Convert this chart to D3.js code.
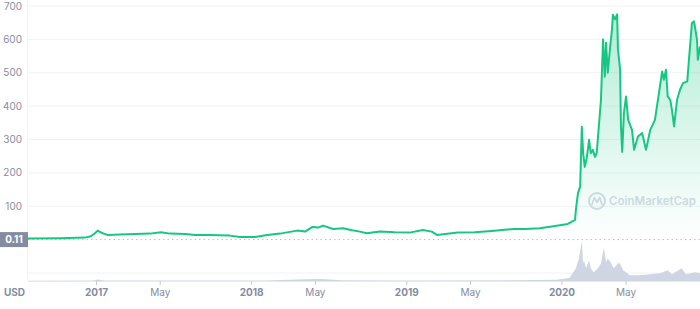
<!DOCTYPE html>
<html>
<head>
<meta charset="utf-8">
<script src="https://cdn.jsdelivr.net/npm/d3@7"></script>
<style>
  body { margin: 0; background: #fff; }
  svg { display: block; font-family: Inter, "Noto Sans", sans-serif; }
</style>
</head>
<body>
<svg width="700" height="309"></svg>
<script>
// price readings (USD)
const priceDates = ["2016-07-25","2016-10-09","2016-12-06","2016-12-20","2016-12-30","2017-01-05","2017-01-12","2017-01-19","2017-01-29","2017-02-26","2017-04-03","2017-05-08","2017-06-03","2017-06-24","2017-07-30","2017-08-22","2017-09-26","2017-11-12","2017-12-06","2018-01-10","2018-02-08","2018-03-10","2018-04-19","2018-05-08","2018-05-25","2018-06-08","2018-06-19","2018-07-13","2018-08-05","2018-08-27","2018-09-14","2018-09-30","2018-10-31","2018-12-05","2019-01-09","2019-02-09","2019-03-02","2019-03-14","2019-05-02","2019-06-11","2019-07-21","2019-09-13","2019-10-07","2019-11-11","2019-12-17","2020-01-16","2020-02-02","2020-02-04","2020-02-09","2020-02-14","2020-02-18","2020-02-21","2020-02-25","2020-03-01","2020-03-06","2020-03-10","2020-03-15","2020-03-20","2020-03-24","2020-03-29","2020-04-03","2020-04-08","2020-04-12","2020-04-15","2020-04-19","2020-04-24","2020-04-29","2020-05-01","2020-05-06","2020-05-11","2020-05-13","2020-05-18","2020-05-20","2020-05-23","2020-05-27","2020-06-01","2020-06-06","2020-06-15","2020-06-20","2020-06-29","2020-07-09","2020-07-18","2020-07-28","2020-08-08","2020-08-15","2020-08-25","2020-08-29","2020-09-03","2020-09-07","2020-09-13","2020-09-17","2020-09-22","2020-09-29","2020-10-06","2020-10-13","2020-10-23","2020-10-27","2020-11-03","2020-11-08","2020-11-15","2020-11-17","2020-11-22"];
const priceValues = [3,4,6,10,20,27,22,18,14,15,17,18,22,18,17,14,14,12,8,8,14,18,27,24,38,36,42,32,34,28,24,19,24,22,21,29,24,14,21,22,26,32,32,34,41,47,59,89,140,158,338,260,218,248,299,259,269,248,260,339,419,600,488,590,500,570,630,674,660,675,570,510,339,263,379,429,359,329,269,309,319,269,329,359,419,504,479,509,429,419,389,339,419,449,469,474,539,649,654,599,539,579];

// volume readings (relative units)
const volumeDates = ["2016-07-25","2016-12-25","2017-01-05","2017-01-20","2017-06-01","2018-02-01","2018-05-10","2018-06-15","2018-08-01","2019-01-01","2019-09-01","2019-12-20","2020-01-20","2020-02-04","2020-02-11","2020-02-18","2020-02-21","2020-02-23","2020-02-28","2020-03-06","2020-03-10","2020-03-17","2020-03-27","2020-04-03","2020-04-10","2020-04-15","2020-04-19","2020-04-26","2020-05-03","2020-05-15","2020-05-20","2020-05-25","2020-06-01","2020-06-10","2020-07-03","2020-07-27","2020-08-20","2020-09-07","2020-09-17","2020-10-10","2020-10-20","2020-11-10","2020-11-22"];
const volumeValues = [0.3,0.5,1.5,0.6,0.5,0.6,1.8,2,0.8,0.6,0.8,1.2,3,13,23,41,18,21,13,21,13,9,13,18,34,19,23,19,13,19,16,11,9,6,6,7,8,11,7,13,7,9,8];

const yTicks = [100,200,300,400,500,600,700];
const gridValues = [-100,100,200,300,400,500,600,700];
const xTickDates = ["2017-01-01","2017-05-31","2018-01-01","2018-05-31","2019-01-01","2019-05-31","2020-01-01","2020-05-31"];
const xTickLabels = ["2017","May","2018","May","2019","May","2020","May"];
const startPrice = 0.11;

const parse = d3.timeParse("%Y-%m-%d");
const price = priceDates.map((d, i) => ({date: parse(d), value: priceValues[i]}));
const volume = volumeDates.map((d, i) => ({date: parse(d), value: volumeValues[i]}));

const svg = d3.select("svg");
const left = 28, right = 700;

const x = d3.scaleTime()
  .domain([parse("2016-07-25"), parse("2020-11-22")])
  .range([left, right]);
const y = d3.scaleLinear().domain([-100, 700]).range([273, 6]);
const yVol = d3.scaleLinear().domain([0, d3.max(volumeValues)]).range([281, 241]);

// gradient for the price area
const defs = svg.append("defs");
const grad = defs.append("linearGradient")
  .attr("id", "fillGrad")
  .attr("gradientUnits", "userSpaceOnUse")
  .attr("x1", 0).attr("x2", 0)
  .attr("y1", y(700)).attr("y2", y(0));
grad.append("stop").attr("offset", "0%").attr("stop-color", "#16c784").attr("stop-opacity", 0.34);
grad.append("stop").attr("offset", "100%").attr("stop-color", "#16c784").attr("stop-opacity", 0.0);

// grid
svg.append("g").selectAll("line")
  .data(gridValues)
  .join("line")
  .attr("x1", left).attr("x2", right)
  .attr("y1", d => y(d)).attr("y2", d => y(d))
  .attr("stroke", "#eff2f5");

svg.append("line")
  .attr("x1", left - 0.5).attr("x2", left - 0.5)
  .attr("y1", 0).attr("y2", 281)
  .attr("stroke", "#f1f3f6");

// watermark
const wm = svg.append("g").attr("fill", "none").attr("stroke", "#d5dbe6");
wm.append("circle").attr("cx", 597).attr("cy", 201).attr("r", 8).attr("stroke-width", 2);
wm.append("path")
  .attr("d", "M592,204.5 L594.3,197.5 L597,202.5 L599.7,197.5 L602,204.5")
  .attr("stroke-width", 1.8).attr("stroke-linejoin", "round").attr("stroke-linecap", "round");
svg.append("text")
  .attr("x", 609).attr("y", 205)
  .attr("fill", "#d5dbe6")
  .attr("font-size", 11.5).attr("font-weight", 600)
  .text("CoinMarketCap");

// volume
svg.append("path")
  .datum(volume)
  .attr("fill", "#cfd5e3")
  .attr("d", d3.area().x(d => x(d.date)).y0(yVol(0)).y1(d => yVol(d.value)));

// price area + line
svg.append("path")
  .datum(price)
  .attr("fill", "url(#fillGrad)")
  .attr("d", d3.area().x(d => x(d.date)).y0(y(startPrice)).y1(d => y(d.value)));

svg.append("line")
  .attr("x1", left).attr("x2", right)
  .attr("y1", y(startPrice)).attr("y2", y(startPrice))
  .attr("stroke", "#b8bfcc")
  .attr("stroke-dasharray", "1.5,3");

svg.append("path")
  .datum(price)
  .attr("fill", "none")
  .attr("stroke", "#16c784")
  .attr("stroke-width", 2)
  .attr("stroke-linejoin", "round")
  .attr("d", d3.line().x(d => x(d.date)).y(d => y(d.value)));

// y labels
svg.append("g").selectAll("text")
  .data(yTicks)
  .join("text")
  .attr("x", 22).attr("y", d => y(d) + 3.5)
  .attr("text-anchor", "end")
  .attr("font-size", 10)
  .attr("fill", "#858ca2")
  .text(d => d);

// start price badge
svg.append("rect")
  .attr("x", 0).attr("y", y(startPrice) - 7.5)
  .attr("width", 28).attr("height", 15)
  .attr("fill", "#858ca2");
svg.append("text")
  .attr("x", 14).attr("y", y(startPrice) + 3.5)
  .attr("text-anchor", "middle")
  .attr("font-size", 10).attr("font-weight", 700)
  .attr("fill", "#fff")
  .text(startPrice);

// x axis
const xAxis = svg.append("g").attr("transform", "translate(0,281)")
  .call(d3.axisBottom(x)
    .tickValues(xTickDates.map(parse))
    .tickSize(4)
    .tickFormat((d, i) => xTickLabels[i]));
xAxis.select(".domain").attr("stroke", "#e6e9ef").attr("d", `M${left},0.5H${right}`);
xAxis.selectAll(".tick line").attr("stroke", "#c5cad6");
xAxis.selectAll(".tick text")
  .attr("dy", 0).attr("y", 15)
  .attr("font-family", "Inter, sans-serif")
  .attr("font-size", 10)
  .attr("fill", "#858ca2")
  .attr("font-weight", (d, i) => /^\d/.test(xTickLabels[i]) ? 700 : 400);

svg.append("text")
  .attr("x", 4).attr("y", 296)
  .attr("font-size", 10).attr("font-weight", 700)
  .attr("fill", "#858ca2")
  .text("USD");
</script>
</body>
</html>
